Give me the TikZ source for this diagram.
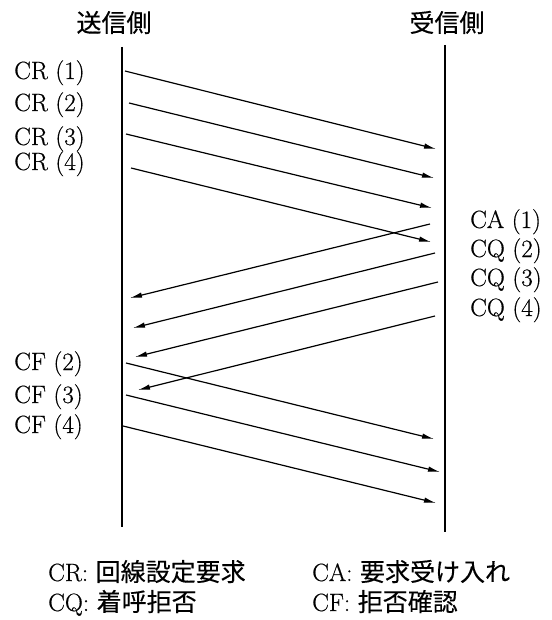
\documentclass[tikz,border=0pt]{standalone}
\usepackage{fontspec}
\newfontfamily\lmheavy{Latin Modern Roman}[FakeBold=0.5]
\newfontfamily\cjk{Noto Sans CJK JP}[FakeBold=0.3]
\usetikzlibrary{arrows.meta}
\begin{document}
\begin{tikzpicture}[x=1pt,y=-1pt,
  lbl/.style={anchor=base west,inner sep=0pt,font=\fontsize{25}{30}\selectfont\lmheavy},
  hdr/.style={anchor=base,inner sep=0pt,font=\fontsize{25}{30}\selectfont\cjk},
  axisline/.style={line width=1.8pt},
  msg/.style={line width=1.2pt,-{Latex[length=12pt,width=5.5pt]}}]
\useasboundingbox (0,0) rectangle (551,620);
% headers
\node[hdr] (hs) at (114,32) {送信側};
\node[hdr] (hr) at (447,32) {受信側};
% time lines
\coordinate (lt) at (122,47); \coordinate (lb) at (122,527);
\coordinate (rt) at (445,45); \coordinate (rb) at (445,532);
\draw[axisline] (lt) -- (lb);
\draw[axisline] (rt) -- (rb);
% labels
\node[lbl] (cr1) at (14,79) {CR (1)};
\node[lbl] (cr2) at (14,111) {CR (2)};
\node[lbl] (cr3) at (14,145) {CR (3)};
\node[lbl] (cr4) at (14,170) {CR (4)};
\node[lbl] (ca1) at (470,228) {CA (1)};
\node[lbl] (cq2) at (470,257) {CQ (2)};
\node[lbl] (cq3) at (470,286) {CQ (3)};
\node[lbl] (cq4) at (470,316) {CQ (4)};
\node[lbl] (cf2) at (14,370) {CF (2)};
\node[lbl] (cf3) at (14,403) {CF (3)};
\node[lbl] (cf4) at (14,433) {CF (4)};
% message endpoints
\coordinate (s1) at (125,71);  \coordinate (e1) at (436,149);
\coordinate (s2) at (129,103); \coordinate (e2) at (434,178);
\coordinate (s3) at (126,134); \coordinate (e3) at (432,208);
\coordinate (s4) at (131,168); \coordinate (e4) at (431,242);
\coordinate (s5) at (430,224); \coordinate (e5) at (130,298);
\coordinate (s6) at (435,253); \coordinate (e6) at (133,328);
\coordinate (s7) at (438,282); \coordinate (e7) at (135,357);
\coordinate (s8) at (435,316); \coordinate (e8) at (138,390);
\coordinate (s9) at (126,363); \coordinate (e9) at (434,439);
\coordinate (s10) at (126,395); \coordinate (e10) at (440,472);
\coordinate (s11) at (123,426); \coordinate (e11) at (436,503);
\foreach \i in {1,...,11} \draw[msg] (s\i) -- (e\i);
% legend
\node[lbl] (l1) at (48,581) {CR: {\cjk 回線設定要求}};
\node[lbl] (l2) at (312,581) {CA: {\cjk 要求受け入れ}};
\node[lbl] (l3) at (48,611) {CQ: {\cjk 着呼拒否}};
\node[lbl] (l4) at (312,611) {CF: {\cjk 拒否確認}};
\end{tikzpicture}
\end{document}
